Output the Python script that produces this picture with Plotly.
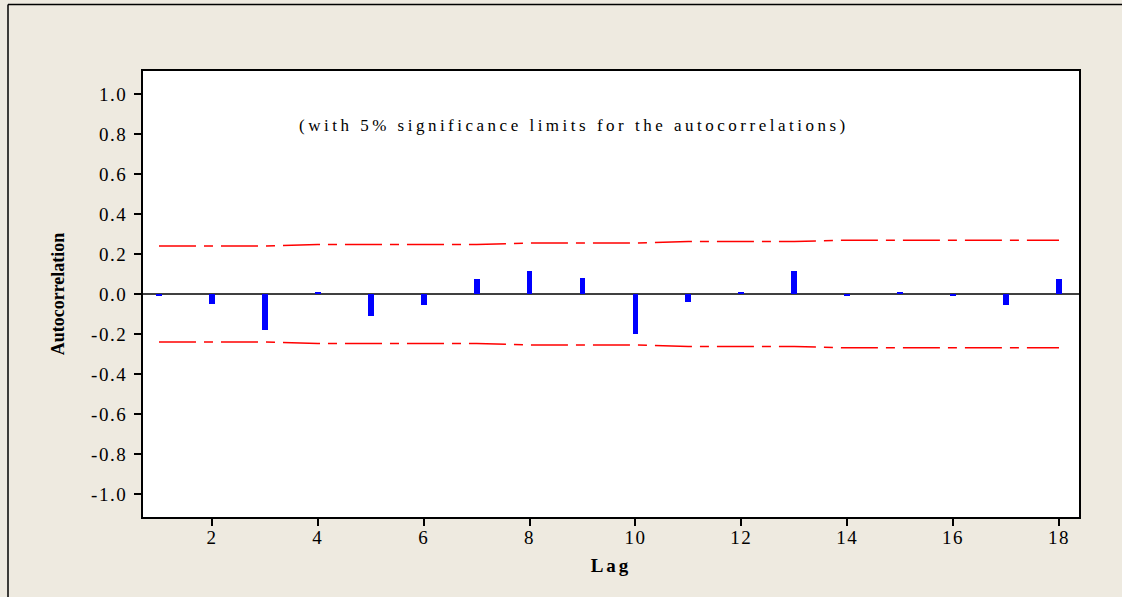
import plotly.graph_objects as go

lags = list(range(1, 19))
acf = [-0.01, -0.05, -0.18, 0.01, -0.11, -0.055, 0.075, 0.115, 0.08,
       -0.20, -0.04, 0.008, 0.115, -0.01, 0.012, -0.01, -0.055, 0.075]
upper = [0.240, 0.240, 0.240, 0.247, 0.247, 0.247, 0.247, 0.255, 0.255,
         0.255, 0.262, 0.262, 0.262, 0.269, 0.269, 0.269, 0.269, 0.269]
lower = [-u for u in upper]
yticks = [-1.0, -0.8, -0.6, -0.4, -0.2, 0.0, 0.2, 0.4, 0.6, 0.8, 1.0]
xticks = [2, 4, 6, 8, 10, 12, 14, 16, 18]

SERIF = "Liberation Serif, Times New Roman, serif"
SP = "font-family:Liberation Serif,serif;letter-spacing:{}px"
dash = "37px,8px,9px,8px"

fig = go.Figure()
fig.add_trace(go.Scatter(x=lags, y=upper, mode="lines",
                         line=dict(color="#FF0000", width=1.5, dash=dash),
                         hoverinfo="skip", showlegend=False))
fig.add_trace(go.Scatter(x=lags, y=lower, mode="lines",
                         line=dict(color="#FF0000", width=1.5, dash=dash),
                         hoverinfo="skip", showlegend=False))
fig.add_trace(go.Bar(x=lags, y=acf, base=0, width=0.11,
                     marker=dict(color="#0000FF", line=dict(width=0)),
                     showlegend=False))

fig.add_annotation(
    text=f'<span style="{SP.format(3.5)}">(with 5% significance limits for the autocorrelations)</span>',
    xref="paper", yref="paper", x=0.4605, y=0.878,
    showarrow=False, font=dict(family=SERIF, size=17, color="black"),
    xanchor="center", yanchor="middle")

# outer frame (top and left edges; the rest lies outside the picture)
fx0 = (8 - 143) / 936
fx1 = (1122 - 143) / 936
fy1 = (517 - 4.5) / 446
fy0 = (517 - 597) / 446
fig.add_shape(type="line", xref="paper", yref="paper", x0=fx0, x1=fx1, y0=fy1, y1=fy1,
              line=dict(color="black", width=1.5), layer="below")
fig.add_shape(type="line", xref="paper", yref="paper", x0=fx0, x1=fx0, y0=fy0, y1=fy1,
              line=dict(color="black", width=1.5), layer="below")

fig.update_layout(
    width=1122, height=597,
    margin=dict(l=143, r=43, t=71, b=80),
    paper_bgcolor="#EEEAE0", plot_bgcolor="white",
    font=dict(family=SERIF, color="black"),
    bargap=0,
    modebar=dict(bgcolor="rgba(0,0,0,0)", color="rgba(0,0,0,0)",
                 activecolor="rgba(0,0,0,0)"),
    xaxis=dict(range=[0.698, 18.378], tickvals=xticks,
               ticktext=[f'<span style="{SP.format(1.5)}">{v}</span>' for v in xticks],
               ticks="outside", ticklen=7, tickwidth=1.5, tickcolor="black",
               ticklabelstandoff=-5,
               showgrid=False, zeroline=False,
               showline=True, linecolor="black", linewidth=2, mirror=True,
               tickfont=dict(family=SERIF, size=19),
               title=dict(text=f'<b><span style="{SP.format(3)}">Lag</span></b>',
                          font=dict(family=SERIF, size=19), standoff=12)),
    yaxis=dict(range=[-1.115, 1.115], tickvals=yticks,
               ticktext=[f'<span style="{SP.format(1.5)}">{v:.1f}</span>' for v in yticks],
               ticks="outside", ticklen=7, tickwidth=1.5, tickcolor="black",
               ticklabelstandoff=3,
               showgrid=False, zeroline=True, zerolinecolor="#404040", zerolinewidth=1.5,
               showline=True, linecolor="black", linewidth=2, mirror=True,
               tickfont=dict(family=SERIF, size=19),
               title=dict(text="<b>Autocorrelation</b>",
                          font=dict(family=SERIF, size=18), standoff=22)),
)

fig.write_html(
    "out.html",
    post_script=("document.body.style.margin='0';document.body.style.overflow='hidden';"
                 "document.querySelectorAll('.modebar-container').forEach(function(e){e.remove();});"))
